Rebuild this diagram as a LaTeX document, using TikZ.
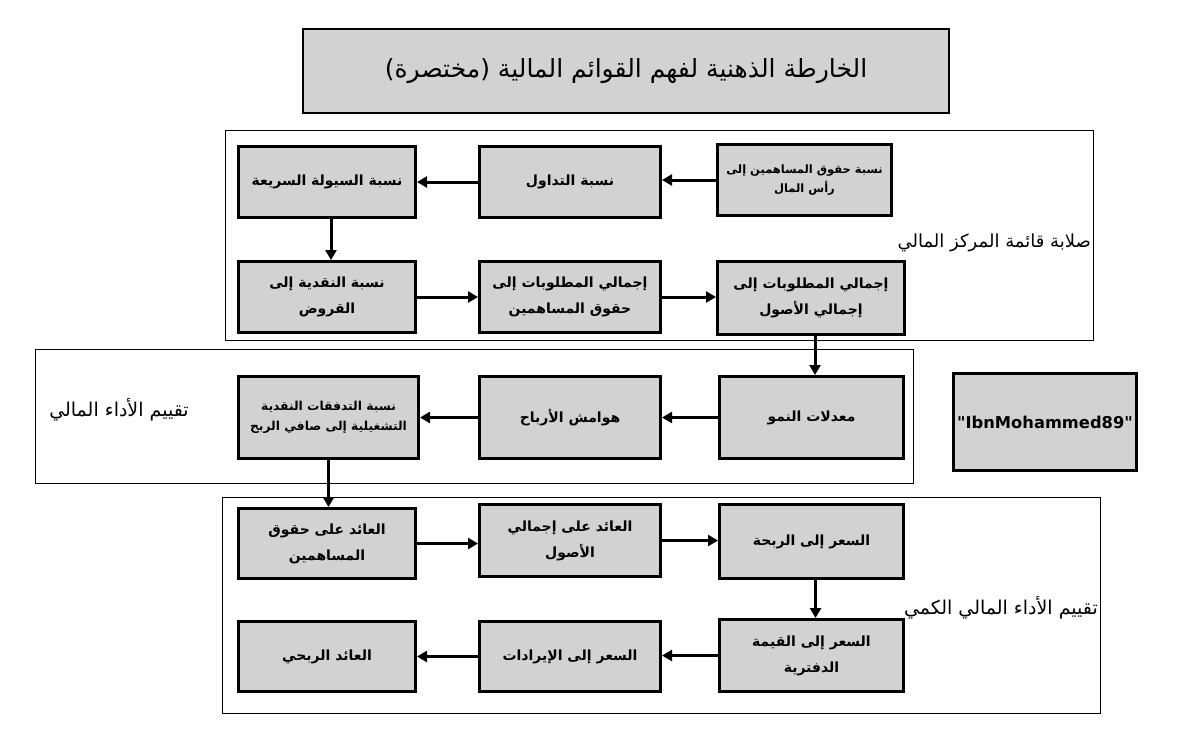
\documentclass[tikz,border=0pt]{standalone}
\usepackage{fontspec}
\usetikzlibrary{arrows.meta}
\TeXXeTstate=1
\newfontfamily\arfont[Script=Arabic]{DejaVu Sans}
\newfontfamily\latfont{DejaVu Sans}
\newcommand\AR[1]{\beginR #1\endR}
\definecolor{boxgray}{RGB}{210,210,210}
\tikzset{
  stepbox/.style={draw=black, line width=3pt, fill=boxgray, inner sep=2pt,
    align=center, font=\arfont\bfseries\fontsize{14}{26}\selectfont},
  smalltext/.style={font=\arfont\bfseries\fontsize{11.5}{19}\selectfont},
  midtext/.style={font=\arfont\bfseries\fontsize{12.3}{20}\selectfont},
  frame/.style={draw=black, line width=1pt},
  grouplabel/.style={font=\arfont\fontsize{19}{24}\selectfont, inner sep=0pt},
  conn/.style={line width=3pt, -{Triangle[length=10pt,width=11pt]}}
}
\begin{document}
\begin{tikzpicture}[x=1pt,y=-1pt]
\useasboundingbox[fill=white] (0,0) rectangle (1191,742);
% frames
\draw[frame] (225,130) rectangle (1093,340);
\draw[frame] (35,349) rectangle (913,483);
\draw[frame] (222,497) rectangle (1100,713);
% title
\node[draw=black, line width=2pt, fill=boxgray, minimum width=646pt, minimum height=84pt,
  font=\arfont\fontsize{25}{30}\selectfont] (title) at (626,71) {\AR{الخارطة الذهنية لفهم القوائم المالية (مختصرة)}};
% row 1
\node[stepbox, minimum width=177pt, minimum height=71pt] (A) at (327,182) {\AR{نسبة السيولة السريعة}};
\node[stepbox, minimum width=181pt, minimum height=71pt] (B) at (570,182) {\AR{نسبة التداول}};
\node[stepbox, smalltext, minimum width=174pt, minimum height=71pt] (C) at (804.5,180) {\AR{نسبة حقوق المساهمين إلى}\\\AR{رأس المال}};
% row 2
\node[stepbox, minimum width=177pt, minimum height=71pt] (D) at (327,297) {\AR{نسبة النقدية إلى}\\\AR{القروض}};
\node[stepbox, minimum width=181pt, minimum height=71pt] (E) at (570,297) {\AR{إجمالي المطلوبات إلى}\\\AR{حقوق المساهمين}};
\node[stepbox, minimum width=187pt, minimum height=73pt] (F) at (811,298) {\AR{إجمالي المطلوبات إلى}\\\AR{إجمالي الأصول}};
% row 3
\node[stepbox, minimum width=184pt, minimum height=82pt] (G) at (811.5,417.5) {\AR{معدلات النمو}};
\node[stepbox, minimum width=181pt, minimum height=82pt] (H) at (570,417.5) {\AR{هوامش الأرباح}};
\node[stepbox, midtext, minimum width=180pt, minimum height=82pt] (I) at (328.5,417.5) {\AR{نسبة التدفقات النقدية}\\\AR{التشغيلية إلى صافي الربح}};
% row 4
\node[stepbox, minimum width=177pt, minimum height=70pt] (J) at (327,543.5) {\AR{العائد على حقوق}\\\AR{المساهمين}};
\node[stepbox, minimum width=181pt, minimum height=72pt] (K) at (570,540.5) {\AR{العائد على إجمالي}\\\AR{الأصول}};
\node[stepbox, minimum width=184pt, minimum height=74pt] (L) at (811.5,541.5) {\AR{السعر إلى الربحة}};
% row 5
\node[stepbox, minimum width=184pt, minimum height=72pt] (M) at (811.5,655.5) {\AR{السعر إلى القيمة}\\\AR{الدفترية}};
\node[stepbox, minimum width=181pt, minimum height=70pt] (N) at (570,656.5) {\AR{السعر إلى الإيرادات}};
\node[stepbox, minimum width=177pt, minimum height=70pt] (O) at (327,656.5) {\AR{العائد الربحي}};
% signature
\node[draw=black, line width=3pt, fill=boxgray, minimum width=183pt, minimum height=97pt,
  inner sep=0pt, font=\latfont\bfseries\fontsize{16.3}{20}\selectfont] (sig) at (1045,422) {"IbnMohammed89"};
% group labels
\node[grouplabel, anchor=east, font=\arfont\fontsize{18}{24}\selectfont] (g1) at (1091,243) {\AR{صلابة قائمة المركز المالي}};
\node[grouplabel] (g2) at (119,410) {\AR{تقييم الأداء المالي}};
\node[grouplabel, anchor=east] (g3) at (1098,608) {\AR{تقييم الأداء المالي الكمي}};
% connectors
\draw[conn] (C.west) -- (C.west -| B.east);
\draw[conn] (B.west) -- (B.west -| A.east);
\draw[conn] ([xshift=4pt]A.south) -- ([xshift=4pt]A.south |- D.north);
\draw[conn] (D.east) -- (D.east -| E.west);
\draw[conn] (E.east) -- (E.east -| F.west);
\draw[conn] ([xshift=4pt]F.south) -- ([xshift=4pt]F.south |- G.north);
\draw[conn] (G.west) -- (G.west -| H.east);
\draw[conn] (H.west) -- (H.west -| I.east);
\draw[conn] (I.south) -- (I.south |- J.north);
\draw[conn] (J.east) -- (J.east -| K.west);
\draw[conn] (K.east) -- (K.east -| L.west);
\draw[conn] ([xshift=4pt]L.south) -- ([xshift=4pt]L.south |- M.north);
\draw[conn] (M.west) -- (M.west -| N.east);
\draw[conn] (N.west) -- (N.west -| O.east);
\end{tikzpicture}
\end{document}
